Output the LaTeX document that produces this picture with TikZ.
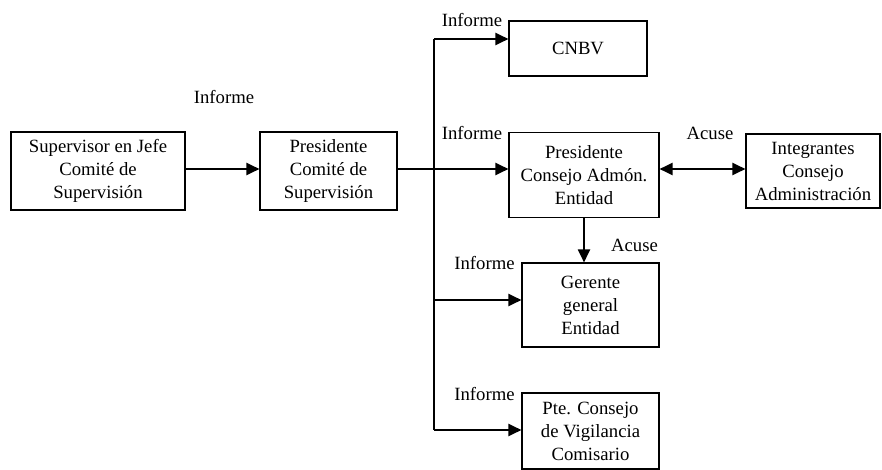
\documentclass[tikz,border=0pt]{standalone}
\usepackage{fontspec}
\setmainfont{Liberation Serif}
\usetikzlibrary{arrows.meta}

\begin{document}
\begin{tikzpicture}[
x=1pt,y=-1pt,
>={Triangle[length=13pt,width=12pt]},
font=\fontsize{18.7}{23}\selectfont,
box/.style={
	draw,
	line width=1.1pt,
	align=center,
	inner sep=0pt
},
conn/.style={
	line width=2pt
},
lbl/.style={
	inner sep=0pt
}
]
\useasboundingbox (0,0) rectangle (882,470);

\node[box,minimum width=174,minimum height=78] (sup) at (98,171) {Supervisor en Jefe\\Comité de\\Supervisión};
\node[box,minimum width=137,minimum height=78] (pcs) at (328.5,171) {Presidente\\Comité de\\Supervisión};
\node[box,minimum width=138,minimum height=55] (cnbv) at (578,48.5) {CNBV};
\node[box,minimum width=150,minimum height=85] (pca) at (584,175) {Presidente\\Consejo Admón.\\Entidad};
\node[box,minimum width=134,minimum height=74] (int) at (813,171) {Integrantes\\Consejo\\Administración};
\node[box,minimum width=137,minimum height=84] (ger) at (590.5,305) {Gerente\\general\\Entidad};
\node[box,minimum width=137,minimum height=76] (pte) at (590.5,431) {Pte. Consejo\\de Vigilancia\\Comisario};

% trunk
\coordinate (t1) at (434,39);
\coordinate (t2) at (434,169);
\coordinate (t3) at (434,300);
\coordinate (t4) at (434,430);

\draw[conn,->] (sup.east |- t2) -- (pcs.west |- t2);
\draw[conn] (pcs.east |- t2) -- (t2);
\draw[conn] (t1) -- (t4);
\draw[conn,->] (t1) -- (t1 -| cnbv.west);
\draw[conn,->] (t2) -- (t2 -| pca.west);
\draw[conn,->] (t3) -- (t3 -| ger.west);
\draw[conn,->] (t4) -- (t4 -| pte.west);
\draw[conn,<->] (t2 -| pca.east) -- (t2 -| int.west);
\draw[conn,->] (pca.south) -- (pca.south |- ger.north);

\node[lbl] (inf0) at (224,97) {Informe};
\foreach \x/\y/\n in {472/20/1,472/133/2,484.5/263/3,484.5/394/4}
\node[lbl] (inf\n) at (\x,\y) {Informe};
\node[lbl] (acu1) at (710,133) {Acuse};
\node[lbl] (acu2) at (634.5,245) {Acuse};

\end{tikzpicture}
\end{document}
